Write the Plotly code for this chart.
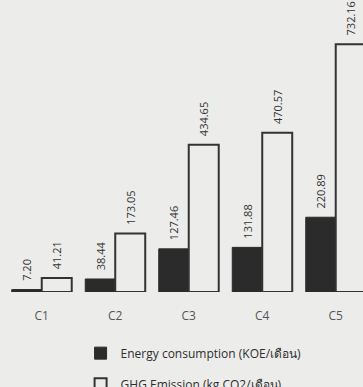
import plotly.graph_objects as go

categories = ["C1", "C2", "C3", "C4", "C5"]
energy_koe = [7.20, 38.44, 127.46, 131.88, 220.89]
ghg_kgco2 = [41.21, 173.05, 434.65, 470.57, 732.16]

positions = list(range(len(categories)))

bg = "#ececeb"
ink = "#2b2b2b"
font_family = "Open Sans, Noto Sans, DejaVu Sans, sans-serif"

# a little air between each bar top and its rotated value label
pad = "\u00a0\u00a0"

fig = go.Figure()
fig.add_trace(go.Bar(
    x=positions, y=energy_koe,
    name="Energy consumption (KOE/เดือน)",
    legendgroup="a",
    marker=dict(color=ink, line=dict(color=ink, width=1)),
    text=[pad + f"{v:.2f}" for v in energy_koe],
    textposition="outside", textangle=-90, constraintext="none",
    cliponaxis=False,
    textfont=dict(size=11, color="#333333", family=font_family),
))
fig.add_trace(go.Bar(
    x=positions, y=ghg_kgco2,
    name="GHG Emission (kg CO2/เดือน)",
    legendgroup="b",
    marker=dict(color=bg, line=dict(color="#333333", width=2)),
    text=[pad + f"{v:.2f}" for v in ghg_kgco2],
    textposition="outside", textangle=-90, constraintext="none",
    cliponaxis=False,
    textfont=dict(size=11, color="#333333", family=font_family),
))

fig.update_layout(
    width=363, height=387,
    margin=dict(l=5, r=0, t=0, b=95, autoexpand=False),
    paper_bgcolor=bg, plot_bgcolor=bg,
    barmode="group", bargap=0.184, bargroupgap=0,
    font=dict(family=font_family, size=12, color="#444444"),
    xaxis=dict(type="linear", range=[-0.5, 4.371], showgrid=False,
               showline=False, zeroline=False, ticks="",
               tickmode="array", tickvals=positions, ticktext=categories,
               ticklabelstandoff=15, tickangle=0,
               tickfont=dict(size=12, color="#555555")),
    yaxis=dict(range=[0, 862.6], visible=False),
    legend=dict(xref="container", yref="container", x=0.222, y=0.125,
                xanchor="left", yanchor="top",
                traceorder="grouped", tracegroupgap=12,
                bgcolor="rgba(0,0,0,0)",
                font=dict(size=12, color="#2e2e2e", family=font_family)),
    showlegend=True,
)

fig.write_html("out.html")
